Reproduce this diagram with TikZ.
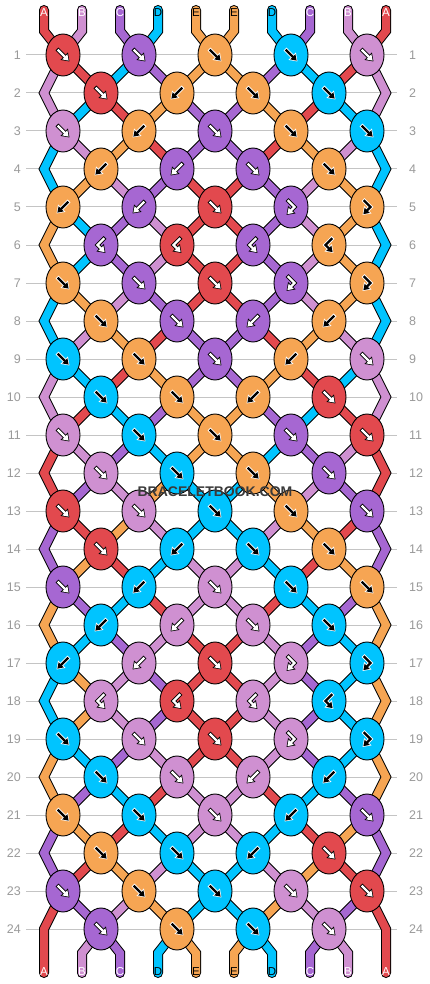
\documentclass[tikz,border=0pt]{standalone}
\usepackage{fontspec}
\setmainfont{Liberation Sans}
\usepackage{xstring}
\usetikzlibrary{shapes.geometric,arrows.meta}
\pgfdeclarelayer{back}\pgfdeclarelayer{sout}\pgfdeclarelayer{sin}
\pgfsetlayers{back,sout,sin,main}
\definecolor{colA}{HTML}{E2494E}
\definecolor{colB}{HTML}{CF90D1}
\definecolor{colC}{HTML}{A667D2}
\definecolor{colD}{HTML}{00C4FF}
\definecolor{colE}{HTML}{F6A553}
\definecolor{gridgray}{HTML}{C4C4C4}
\definecolor{numgray}{HTML}{9A9A9A}
\definecolor{wmark}{HTML}{3A3A3A}
\def\fgA{white}\def\fgB{white}\def\fgC{white}\def\fgD{black}\def\fgE{black}
\def\olA{black}\def\olB{black}\def\olC{black}\def\olD{white}\def\olE{white}
% string order after each row
\expandafter\def\csname st0\endcsname{ABCDEEDCBA}
\expandafter\def\csname st1\endcsname{BADCEECDAB}
\expandafter\def\csname st2\endcsname{BDAECCEADB}
\expandafter\def\csname st3\endcsname{DBEACCAEBD}
\expandafter\def\csname st4\endcsname{DEBCAACBED}
\expandafter\def\csname st5\endcsname{EDCBAACBED}
\expandafter\def\csname st6\endcsname{EDCBAACBED}
\expandafter\def\csname st7\endcsname{DEBCAACBED}
\expandafter\def\csname st8\endcsname{DBEACCAEBD}
\expandafter\def\csname st9\endcsname{BDAECCEADB}
\expandafter\def\csname st10\endcsname{BADCEECDAB}
\expandafter\def\csname st11\endcsname{ABCDEEDCBA}
\expandafter\def\csname st12\endcsname{ACBEDDEBCA}
\expandafter\def\csname st13\endcsname{CAEBDDBEAC}
\expandafter\def\csname st14\endcsname{CEADBBDAEC}
\expandafter\def\csname st15\endcsname{ECDABBADCE}
\expandafter\def\csname st16\endcsname{EDCBAABCDE}
\expandafter\def\csname st17\endcsname{DEBCAABCDE}
\expandafter\def\csname st18\endcsname{DEBCAABCDE}
\expandafter\def\csname st19\endcsname{EDCBAABCDE}
\expandafter\def\csname st20\endcsname{ECDABBADCE}
\expandafter\def\csname st21\endcsname{CEADBBDAEC}
\expandafter\def\csname st22\endcsname{CAEBDDBEAC}
\expandafter\def\csname st23\endcsname{ACBEDDEBCA}
\expandafter\def\csname st24\endcsname{ABCDEEDCBA}
% knot types: 1 forward, 2 backward, 3 forward-backward, 4 backward-forward
\expandafter\def\csname ty1\endcsname{11111}
\expandafter\def\csname ty2\endcsname{1211}
\expandafter\def\csname ty3\endcsname{12111}
\expandafter\def\csname ty4\endcsname{2211}
\expandafter\def\csname ty5\endcsname{22133}
\expandafter\def\csname ty6\endcsname{4444}
\expandafter\def\csname ty7\endcsname{11133}
\expandafter\def\csname ty8\endcsname{1122}
\expandafter\def\csname ty9\endcsname{11121}
\expandafter\def\csname ty10\endcsname{1121}
\expandafter\def\csname ty11\endcsname{11111}
\expandafter\def\csname ty12\endcsname{1111}
\expandafter\def\csname ty13\endcsname{11111}
\expandafter\def\csname ty14\endcsname{1211}
\expandafter\def\csname ty15\endcsname{12111}
\expandafter\def\csname ty16\endcsname{2211}
\expandafter\def\csname ty17\endcsname{22133}
\expandafter\def\csname ty18\endcsname{4444}
\expandafter\def\csname ty19\endcsname{11133}
\expandafter\def\csname ty20\endcsname{1122}
\expandafter\def\csname ty21\endcsname{11121}
\expandafter\def\csname ty22\endcsname{1121}
\expandafter\def\csname ty23\endcsname{11111}
\expandafter\def\csname ty24\endcsname{1111}
\newcommand\mystrand[2]{%
  \colorlet{curstr}{col#1}%
  \begin{pgfonlayer}{sout}\draw[strandout] #2;\end{pgfonlayer}%
  \begin{pgfonlayer}{sin}\draw[strandin,draw=curstr] #2;\end{pgfonlayer}}
\begin{document}
\begin{tikzpicture}[x=1pt,y=-1pt,
  knot/.style={ellipse,draw=black,line width=0.9pt,minimum width=34pt,minimum height=42pt,inner sep=0pt},
  strandout/.style={line width=10pt,draw=black,line cap=round,line join=miter},
  strandin/.style={line width=8pt,line cap=round,line join=miter},
  arrowout/.style={line width=4.2pt,line join=miter,-{Triangle[length=7.5pt,width=10pt]}},
  arrowin/.style={line width=2.2pt,line join=miter,shorten >=1.2pt,shorten <=1pt,-{Triangle[length=5.5pt,width=7pt]}},
  gridline/.style={draw=gridgray,line width=1pt},
  rownum/.style={text=numgray,font=\fontsize{12.5}{14}\selectfont,inner sep=0pt},
  strlabel/.style={font=\fontsize{11.5}{13}\selectfont,inner sep=0pt},
  wm/.style={text=wmark,font=\bfseries\fontsize{14}{16}\selectfont,inner sep=0pt}]
\useasboundingbox (0,0) rectangle (430,984);
\begin{pgfonlayer}{back}
\fill[white] (0,0) rectangle (430,984);
\end{pgfonlayer}
% grid lines and row numbers
\foreach \r in {1,...,24}{
  \pgfmathsetmacro\y{55+38*(\r-1)}
  \begin{pgfonlayer}{back}\draw[gridline] (26,\y) -- (397,\y);\end{pgfonlayer}
  \node[rownum,anchor=east] (rl\r) at (21,\y) {\r};
  \node[rownum,anchor=west] (rr\r) at (409,\y) {\r};
}
% knots
\foreach \r in {1,...,24}{
  \pgfmathtruncatemacro\odd{mod(\r,2)}
  \pgfmathtruncatemacro\prev{\r-1}
  \pgfmathsetmacro\y{55+38*(\r-1)}
  \edef\types{\csname ty\r\endcsname}
  \edef\state{\csname st\prev\endcsname}
  \StrLen{\types}[\nk]
  \foreach \k in {1,...,\nk}{
    \pgfmathsetmacro\x{\odd==1 ? 63+76*(\k-1) : 101+76*(\k-1)}
    \StrChar{\types}{\k}[\kt]
    \pgfmathtruncatemacro\pl{\odd==1 ? 2*\k-1 : 2*\k}
    \pgfmathtruncatemacro\pp{(\kt==1 || \kt==3) ? \pl : \pl+1}
    \StrChar{\state}{\pp}[\kc]
    \colorlet{curknot}{col\kc}
    \edef\arfg{\csname fg\kc\endcsname}
    \edef\arol{\csname ol\kc\endcsname}
    \node[knot,fill=curknot] (k\r-\k) at (\x,\y) {};
    \ifnum\kt=1
      \draw[arrowout,draw=\arol,shift={(\x,\y)}] (-6,-6) -- (6.5,6.5);
      \draw[arrowin,draw=\arfg,shift={(\x,\y)}] (-6,-6) -- (6.5,6.5);
    \fi
    \ifnum\kt=2
      \draw[arrowout,draw=\arol,shift={(\x,\y)}] (6,-6) -- (-6.5,6.5);
      \draw[arrowin,draw=\arfg,shift={(\x,\y)}] (6,-6) -- (-6.5,6.5);
    \fi
    \ifnum\kt=3
      \draw[arrowout,draw=\arol,shift={(\x,\y)}] (-4,-7.5) -- (3.5,0) -- (-4.5,8);
      \draw[arrowin,draw=\arfg,shift={(\x,\y)}] (-4,-7.5) -- (3.5,0) -- (-4.5,8);
    \fi
    \ifnum\kt=4
      \draw[arrowout,draw=\arol,shift={(\x,\y)}] (4,-7.5) -- (-3.5,0) -- (4.5,8);
      \draw[arrowin,draw=\arfg,shift={(\x,\y)}] (4,-7.5) -- (-3.5,0) -- (4.5,8);
    \fi
  }
}
% end coordinates
\foreach \p in {1,...,10}{
  \pgfmathsetmacro\xp{44+38*(\p-1)}
  \coordinate (top\p) at (\xp,10);
  \coordinate (topb\p) at (\xp,31);
  \coordinate (botb\p) at (\xp,953);
  \coordinate (bot\p) at (\xp,973);
}
% top strands
\foreach \p in {1,...,10}{
  \pgfmathtruncatemacro\kk{(\p+1)/2}
  \StrChar{ABCDEEDCBA}{\p}[\sc]
  \mystrand{\sc}{(top\p) -- (topb\p) -- (k1-\kk.center)}
}
% inner strands
\foreach \r in {2,...,24}{
  \pgfmathtruncatemacro\prev{\r-1}
  \pgfmathtruncatemacro\odd{mod(\r,2)}
  \edef\state{\csname st\prev\endcsname}
  \foreach \p in {2,...,9}{
    \pgfmathtruncatemacro\ka{\odd==1 ? floor(\p/2) : floor((\p+1)/2)}
    \pgfmathtruncatemacro\kb{\odd==1 ? floor((\p+1)/2) : floor(\p/2)}
    \StrChar{\state}{\p}[\sc]
    \mystrand{\sc}{(k\prev-\ka.center) -- (k\r-\kb.center)}
  }
}
% edge strands
\foreach \r in {2,4,...,24}{
  \pgfmathtruncatemacro\prev{\r-1}
  \pgfmathtruncatemacro\nx{\r+1}
  \pgfmathsetmacro\y{55+38*(\r-1)}
  \edef\state{\csname st\prev\endcsname}
  \StrChar{\state}{1}[\sl]
  \StrChar{\state}{10}[\sr]
  \coordinate (el\r) at (44,\y);
  \coordinate (er\r) at (386,\y);
  \ifnum\r<24
    \mystrand{\sl}{(k\prev-1.center) -- (el\r) -- (k\nx-1.center)}
    \mystrand{\sr}{(k\prev-5.center) -- (er\r) -- (k\nx-5.center)}
  \else
    \mystrand{\sl}{(k\prev-1.center) -- (el\r) -- (bot1)}
    \mystrand{\sr}{(k\prev-5.center) -- (er\r) -- (bot10)}
  \fi
}
% bottom strands
\foreach \p in {2,...,9}{
  \pgfmathtruncatemacro\kk{floor(\p/2)}
  \StrChar{ABCDEEDCBA}{\p}[\sc]
  \mystrand{\sc}{(k24-\kk.center) -- (botb\p) -- (bot\p)}
}
% string labels
\foreach \p in {1,...,10}{
  \pgfmathsetmacro\xp{44+38*(\p-1)}
  \StrChar{ABCDEEDCBA}{\p}[\sc]
  \edef\lc{\csname fg\sc\endcsname}
  \node[strlabel,text=\lc] (tl\p) at (\xp,12.5) {\sc};
  \node[strlabel,text=\lc] (bl\p) at (\xp,972) {\sc};
}
\node[wm] (wm) at (215,492) {BRACELETBOOK.COM};
\end{tikzpicture}
\end{document}
